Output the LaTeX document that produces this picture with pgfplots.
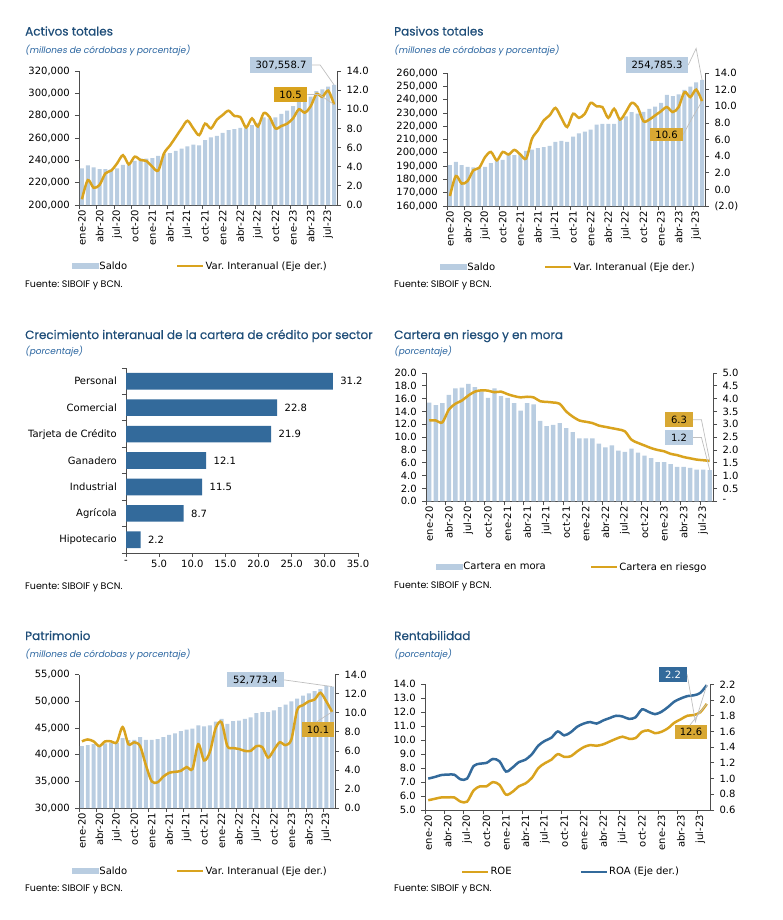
\documentclass[border=0pt]{standalone}
\usepackage{fontspec}
\setmainfont{DejaVu Sans}
\newfontfamily\tfont[FakeBold=0.5]{Poppins}
\newfontfamily\sfont[FakeSlant=0.18]{Poppins}
\newfontfamily\ffont{Poppins}
\usepackage{pgfplots}
\usepackage{pgfplotstable}
\pgfplotsset{compat=1.18}
\frenchspacing

\definecolor{barblue}{HTML}{B9CDE1}
\definecolor{gold}{HTML}{D9A31E}
\definecolor{goldbox}{HTML}{D8A833}
\definecolor{darkblue}{HTML}{336A9B}
\definecolor{titleblue}{HTML}{1F4E79}
\definecolor{subblue}{HTML}{2A65A0}
\definecolor{axgray}{HTML}{4D4D4D}
\definecolor{leadgray}{HTML}{BFBFBF}

\newcommand\tf{\fontsize{10bp}{12bp}\selectfont}

\pgfplotstableread{
saldo var
232800 0.6
235500 2.6
233700 1.8
232200 2.1
232200 3.3
232000 3.6
232800 4.35
236000 5.2
237500 4.25
239500 5.05
241500 4.7
241500 4.6
242000 4.0
244000 3.6
246000 5.4
246500 6.2
248500 7.1
250500 8.0
252500 8.8
254000 8.0
253500 7.3
258000 8.5
260500 8.0
262000 8.9
264500 9.4
267000 9.85
268000 9.3
269000 9.2
269500 8.1
271500 9.05
273500 8.2
278500 9.6
277500 9.2
278500 8.0
281500 8.25
284500 8.5
288500 9.05
293500 10.0
295500 9.65
297000 10.3
302000 11.6
303500 11.3
306000 11.95
307558.7 10.5
}\activos

\pgfplotstableread{
saldo var
190800 -0.8
193100 1.6
190800 0.7
189500 1.0
189000 2.3
189000 2.6
189500 3.9
192300 4.5
194400 3.5
194700 4.5
198300 4.2
198300 4.75
198300 4.2
201400 3.7
202400 6.1
203500 7.1
204200 8.3
205200 8.9
208200 9.8
209000 8.6
208200 7.5
212200 9.1
214700 8.6
216000 9.1
217500 10.4
221100 10.0
221800 9.9
221800 8.6
221800 9.7
225600 8.4
227400 9.3
230500 10.4
229500 9.9
230700 8.2
233000 8.4
234800 8.9
237600 9.4
243500 9.9
242700 9.3
244000 9.9
247300 11.7
249800 11.1
252900 12.0
254785.3 10.6
}\pasivos

\pgfplotstableread{
i v
0 2.2
1 8.7
2 11.5
3 12.1
4 21.9
5 22.8
6 31.2
}\sectores

\pgfplotstableread{
mora riesgo
3.85 12.6
3.75 12.6
3.83 12.3
4.15 14.3
4.40 15.2
4.43 15.7
4.58 16.5
4.45 17.1
4.28 17.3
4.03 17.25
4.40 17.0
4.10 17.1
4.03 16.7
3.83 16.4
3.53 16.2
3.83 16.3
3.78 16.2
3.13 15.6
2.93 15.5
2.98 15.4
3.05 15.2
2.85 14.0
2.70 13.2
2.45 12.6
2.45 12.4
2.45 12.2
2.25 11.8
2.10 11.6
2.18 11.4
1.98 11.2
1.93 10.9
2.05 9.6
1.90 9.1
1.78 8.7
1.68 8.3
1.53 8.0
1.53 7.8
1.45 7.4
1.34 7.2
1.34 6.9
1.30 6.7
1.23 6.5
1.23 6.4
1.22 6.3
}\cartera

\pgfplotstableread{
saldo var
41600 7.0
41800 7.2
42000 7.0
41600 6.5
42100 7.0
42200 7.0
42200 6.9
43100 8.5
42750 6.7
42800 6.9
43300 6.5
42800 4.5
42800 2.8
42900 2.7
43300 3.3
43700 3.7
44000 3.8
44400 3.9
44700 4.3
44900 4.1
45500 6.7
45300 5.0
45500 5.9
46200 8.4
46700 9.0
45800 6.5
46300 6.3
46400 6.2
46700 6.0
47000 6.0
47800 6.5
48000 6.4
48000 5.3
48300 6.1
48900 6.9
49400 6.6
50000 7.2
50500 10.3
51100 10.8
51500 11.2
51900 11.4
52300 12.1
52900 11.2
52773.4 10.1
}\patrimonio

\pgfplotstableread{
roe roa
5.7 1.0
5.8 1.02
5.9 1.045
5.9 1.05
5.9 1.05
5.6 0.99
5.6 1.0
6.4 1.16
6.7 1.19
6.7 1.2
7.0 1.25
6.8 1.22
6.1 1.09
6.3 1.14
6.7 1.21
6.9 1.24
7.3 1.31
8.0 1.42
8.35 1.48
8.6 1.52
9.0 1.60
8.8 1.55
8.85 1.59
9.2 1.66
9.5 1.70
9.65 1.72
9.6 1.70
9.7 1.74
9.9 1.77
10.1 1.80
10.25 1.79
10.1 1.76
10.15 1.78
10.6 1.88
10.7 1.85
10.5 1.82
10.6 1.85
10.85 1.91
11.25 1.98
11.5 2.02
11.75 2.05
11.8 2.06
12.0 2.09
12.6 2.19
}\rentab

\pgfplotsset{
  base/.style={scale only axis, anchor=south west,
    scaled y ticks=false, scaled x ticks=false,
    axis line style={draw=axgray, line width=0.75bp},
    tick style={draw=axgray, line width=0.75bp},
    tick align=outside, major tick length=4bp, minor tick length=4bp,
    tick label style={font=\tf},
    /pgf/number format/assume math mode=true,
    legend style={font=\tf},
  },
  months/.style={base, xmin=-0.5, xmax=43.5,
    xtick={0,3,...,42},
    xticklabels={ene-20,abr-20,jul-20,oct-20,ene-21,abr-21,jul-21,oct-21,ene-22,abr-22,jul-22,oct-22,ene-23,abr-23,jul-23},
    minor xtick={-0.5,2.5,...,41.5},
    major x tick style={draw=none},
    xticklabel style={rotate=90, anchor=east, inner sep=1bp},
    axis x line*=bottom},
  nox/.style={base, xmin=-0.5, xmax=43.5, axis x line=none},
  yl/.style={axis y line*=left, yticklabel style={xshift=-1.7bp}},
  yr/.style={axis y line*=right, yticklabel style={xshift=2bp}},
  bars/.style={ybar, bar width=0.68, fill=barblue, draw=none},
  gline/.style={gold, line width=2.5bp, smooth, tension=0.5},
  bline/.style={darkblue, line width=2.5bp, smooth, tension=0.5},
  barleg/.style={legend image code/.code={\fill[barblue] (0bp,-2.5bp) rectangle (26bp,2.5bp);}},
  lgd/.style n args={3}{legend columns=2, legend cell align=left,
    legend style={at={(#1,#2)}, anchor=west, draw=none, fill=none,
      inner sep=0pt, outer sep=0pt, nodes={inner sep=1bp},
      /tikz/every even column/.append style={column sep=#3}}},
  legend image code/.code={\draw[#1] (0bp,0bp) -- (26bp,0bp);},
}

\tikzset{
  ttl/.style={anchor=base west, inner sep=0pt, text=titleblue, font=\fontsize{12bp}{14bp}\tfont},
  sub/.style={anchor=base west, inner sep=0pt, text=subblue, font=\fontsize{9bp}{11bp}\sfont},
  src/.style={anchor=base west, inner sep=0pt, text=black, font=\fontsize{9.5bp}{11bp}\ffont},
  lead/.style={draw=leadgray, line width=0.7bp},
  lab/.style={inner sep=0pt, minimum height=15bp, font=\tf},
}

\begin{document}
\begin{tikzpicture}
\path[use as bounding box] (0,0) rectangle (783bp,-920bp);

% ---------- Panel 1: Activos totales ----------
\node[ttl] at (25bp,-35.5bp) {Activos totales};
\node[sub] at (25bp,-53bp) {(millones de córdobas y porcentaje)};
\node[src] at (25bp,-287bp) {Fuente: SIBOIF y BCN.};
\begin{axis}[months, yl, at={(79bp,-205bp)}, width=258bp, height=134bp,
  ymin=200000, ymax=320000,
  ytick={200000,220000,240000,260000,280000,300000,320000},
  yticklabels={{200,000},{220,000},{240,000},{260,000},{280,000},{300,000},{320,000}}]
\addplot[bars] table[x expr=\coordindex, y=saldo] {\activos};
\end{axis}
\begin{axis}[nox, yr, clip=false, at={(79bp,-205bp)}, width=258bp, height=134bp,
  ymin=0, ymax=14, ytick={0,2,4,6,8,10,12,14},
  yticklabels={0.0,2.0,4.0,6.0,8.0,10.0,12.0,14.0},
  lgd={-0.0271}{-0.4552}{48bp}]
\addlegendimage{barleg}
\addlegendentry{Saldo}
\addplot[gline] table[x expr=\coordindex, y=var] {\activos};
\addlegendentry{Var. Interanual (Eje der.)}
\node[lab, fill=barblue, minimum width=62bp, minimum height=16bp] (a1) at (rel axis cs:0.783,1.045) {307,558.7};
\draw[lead] (a1.east) -- ++(5bp,0) -- (rel axis cs:0.98864,0.8963);
\node[lab, fill=gold, minimum width=33bp] (b1) at (rel axis cs:0.820,0.8246) {10.5};
\draw[lead] (b1.east) -- ++(9bp,0) -- (axis cs:43,10.5);
\end{axis}

% ---------- Panel 2: Pasivos totales ----------
\node[ttl] at (394bp,-35.5bp) {Pasivos totales};
\node[sub] at (394bp,-53bp) {(millones de córdobas y porcentaje)};
\node[src] at (394bp,-287bp) {Fuente: SIBOIF y BCN.};
\begin{axis}[months, yl, at={(447bp,-206bp)}, width=258bp, height=133bp,
  ymin=160000, ymax=260000,
  ytick={160000,170000,180000,190000,200000,210000,220000,230000,240000,250000,260000},
  yticklabels={{160,000},{170,000},{180,000},{190,000},{200,000},{210,000},{220,000},{230,000},{240,000},{250,000},{260,000}}]
\addplot[bars] table[x expr=\coordindex, y=saldo] {\pasivos};
\end{axis}
\begin{axis}[nox, yr, clip=false, at={(447bp,-206bp)}, width=258bp, height=133bp,
  ymin=-2, ymax=14, ytick={-2,0,2,4,6,8,10,12,14},
  yticklabels={(2.0),0.0,2.0,4.0,6.0,8.0,10.0,12.0,14.0},
  lgd={-0.0271}{-0.4586}{48bp}]
\addlegendimage{barleg}
\addlegendentry{Saldo}
\addplot[gline] table[x expr=\coordindex, y=var] {\pasivos};
\addlegendentry{Var. Interanual (Eje der.)}
\node[lab, fill=barblue, minimum width=62bp, minimum height=16bp] (a2) at (rel axis cs:0.814,1.060) {254,785.3};
\draw[lead] (a2.east) -- ++(5bp,0) -- (rel axis cs:0.98864,0.94785);
\node[lab, fill=goldbox, minimum width=33bp, minimum height=13.5bp] (b2) at (rel axis cs:0.851,0.5376) {10.6};
\draw[lead] (b2.east) -- ++(6bp,0) -- (axis cs:43,10.6);
\end{axis}

% ---------- Panel 3: Crecimiento por sector ----------
\node[ttl] at (25bp,-339bp) {Crecimiento interanual de la cartera de crédito por sector};
\node[sub] at (25bp,-354.5bp) {(porcentaje)};
\node[src] at (25bp,-589bp) {Fuente: SIBOIF y BCN.};
\begin{axis}[base, at={(126bp,-553bp)}, width=232bp, height=185bp,
  xmin=0, xmax=35, ymin=-0.5, ymax=6.5, clip=false,
  axis x line*=bottom, axis y line*=left,
  yticklabel style={xshift=-1.7bp},
  xtick={0,5,10,15,20,25,30,35},
  xticklabels={-,5.0,10.0,15.0,20.0,25.0,30.0,35.0},
  ytick={0,1,2,3,4,5,6},
  yticklabels={Hipotecario,Agrícola,Industrial,Ganadero,Tarjeta de Crédito,Comercial,Personal},
  major y tick style={draw=none},
  minor ytick={-0.5,0.5,1.5,2.5,3.5,4.5,5.5,6.5}]
\addplot[xbar, bar width=0.63, fill=darkblue, draw=none,
  point meta=x, nodes near coords,
  nodes near coords style={font=\tf, anchor=west, xshift=4bp,
    /pgf/number format/fixed, /pgf/number format/fixed zerofill,
    /pgf/number format/precision=1, /pgf/number format/assume math mode=true}]
  table[x=v, y=i] {\sectores};
\end{axis}

% ---------- Panel 4: Cartera en riesgo y en mora ----------
\node[ttl] at (394bp,-339bp) {Cartera en riesgo y en mora};
\node[sub] at (394bp,-354.5bp) {(porcentaje)};
\node[src] at (394bp,-588.7bp) {Fuente: SIBOIF y BCN.};
\begin{axis}[months, yr, at={(426bp,-501.3bp)}, width=287bp, height=128.3bp,
  ymin=0, ymax=5, ytick={0,0.5,1,1.5,2,2.5,3,3.5,4,4.5,5},
  yticklabels={-,0.5,1.0,1.5,2.0,2.5,3.0,3.5,4.0,4.5,5.0}]
\addplot[bars] table[x expr=\coordindex, y=mora] {\cartera};
\end{axis}
\begin{axis}[nox, yl, clip=false, at={(426bp,-501.3bp)}, width=287bp, height=128.3bp,
  ymin=0, ymax=20, ytick={0,2,4,6,8,10,12,14,16,18,20},
  yticklabels={0.0,2.0,4.0,6.0,8.0,10.0,12.0,14.0,16.0,18.0,20.0},
  lgd={0.0348}{-0.512}{43bp}]
\addlegendimage{barleg}
\addlegendentry{Cartera en mora}
\addplot[gline] table[x expr=\coordindex, y=riesgo] {\cartera};
\addlegendentry{Cartera en riesgo}
\node[lab, fill=goldbox, minimum width=28bp] (a4) at (rel axis cs:0.8815,0.6352) {6.3};
\draw[lead] (a4.east) -- ++(5bp,0) -- (axis cs:43,6.3);
\node[lab, fill=barblue, minimum width=28bp] (b4) at (rel axis cs:0.8815,0.4973) {1.2};
\draw[lead] (b4.east) -- ++(5bp,0) -- (rel axis cs:0.98864,0.244);
\end{axis}

% ---------- Panel 5: Patrimonio ----------
\node[ttl] at (25bp,-640bp) {Patrimonio};
\node[sub] at (25bp,-657bp) {(millones de córdobas y porcentaje)};
\node[src] at (25bp,-891bp) {Fuente: SIBOIF y BCN.};
\begin{axis}[months, yl, at={(79bp,-808bp)}, width=256bp, height=133.3bp,
  ymin=30000, ymax=55000,
  ytick={30000,35000,40000,45000,50000,55000},
  yticklabels={{30,000},{35,000},{40,000},{45,000},{50,000},{55,000}}]
\addplot[bars] table[x expr=\coordindex, y=saldo] {\patrimonio};
\end{axis}
\begin{axis}[nox, yr, clip=false, at={(79bp,-808bp)}, width=256bp, height=133.3bp,
  ymin=0, ymax=14, ytick={0,2,4,6,8,10,12,14},
  yticklabels={0.0,2.0,4.0,6.0,8.0,10.0,12.0,14.0},
  lgd={-0.0273}{-0.4726}{48bp}]
\addlegendimage{barleg}
\addlegendentry{Saldo}
\addplot[gline] table[x expr=\coordindex, y=var] {\patrimonio};
\addlegendentry{Var. Interanual (Eje der.)}
\node[lab, fill=barblue, minimum width=57bp] (a5) at (rel axis cs:0.6895,0.9610) {52,773.4};
\draw[lead] (a5.east) -- (rel axis cs:0.98864,0.91094);
\node[lab, fill=goldbox, minimum width=32bp] (b5) at (rel axis cs:0.9336,0.5889) {10.1};
\draw[lead] ([xshift=15bp]b5.north west) -- ++(0,2bp) -- (axis cs:43,10.1);
\end{axis}

% ---------- Panel 6: Rentabilidad ----------
\node[ttl] at (394bp,-640bp) {Rentabilidad};
\node[sub] at (394bp,-657bp) {(porcentaje)};
\node[src] at (394bp,-891bp) {Fuente: SIBOIF y BCN.};
\begin{axis}[months, yl, at={(425bp,-810bp)}, width=285bp, height=125.7bp,
  ymin=5, ymax=14, ytick={5,6,7,8,9,10,11,12,13,14},
  yticklabels={5.0,6.0,7.0,8.0,9.0,10.0,11.0,12.0,13.0,14.0}]
\addplot[gline] table[x expr=\coordindex, y=roe] {\rentab};
\end{axis}
\begin{axis}[nox, yr, clip=false, at={(425bp,-810bp)}, width=285bp, height=125.7bp,
  ymin=0.6, ymax=2.2, ytick={0.6,0.8,1.0,1.2,1.4,1.6,1.8,2.0,2.2},
  yticklabels={0.6,0.8,1.0,1.2,1.4,1.6,1.8,2.0,2.2},
  lgd={0.1263}{-0.492}{67bp}]
\addlegendimage{gline}
\addlegendentry{ROE}
\addplot[bline] table[x expr=\coordindex, y=roa] {\rentab};
\addlegendentry{ROA (Eje der.)}
\node[lab, fill=darkblue, text=white, minimum width=28bp] (a6) at (rel axis cs:0.870,1.078) {2.2};
\draw[lead] (a6.east) -- ++(5bp,0) -- (axis cs:43,2.19);
\node[lab, fill=goldbox, minimum width=32bp, minimum height=13.5bp] (b6) at (rel axis cs:0.9333,0.6189) {12.6};
\draw[lead] ([xshift=15bp]b6.north west) -- (rel axis cs:0.98864,0.8444);
\end{axis}

\end{tikzpicture}
\end{document}
